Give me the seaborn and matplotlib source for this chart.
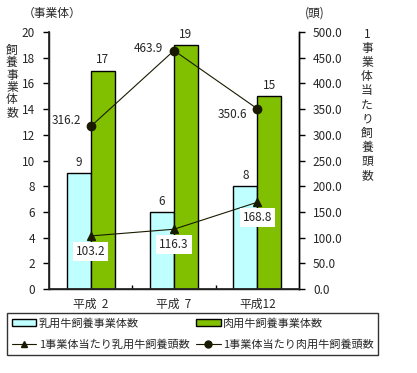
import matplotlib
matplotlib.use("Agg")
import matplotlib.pyplot as plt
import seaborn as sns
import pandas as pd
import numpy as np
from matplotlib.patches import Patch
from matplotlib.lines import Line2D

categories = ["平成  2", "平成  7", "平成12"]
dairy_farms = [9, 6, 8]
beef_farms = [17, 19, 15]
dairy_per_farm = [103.2, 116.3, 168.8]
beef_per_farm = [316.2, 463.9, 350.6]
left_ticks = list(range(0, 21, 2))
right_ticks = [0, 50, 100, 150, 200, 250, 300, 350, 400, 450, 500]

name_dairy_bar = "乳用牛飼養事業体数"
name_beef_bar = "肉用牛飼養事業体数"
name_dairy_line = "1事業体当たり乳用牛飼養頭数"
name_beef_line = "1事業体当たり肉用牛飼養頭数"

sns.set_theme(style="white")
plt.rcParams["font.family"] = ["Noto Sans CJK JP", "DejaVu Sans"]
FS = 8

c_light = "#C0FFFF"
c_green = "#80C000"
c_line = "#1a1a00"

df = pd.DataFrame({
    "cat": categories * 2,
    "val": dairy_farms + beef_farms,
    "series": [name_dairy_bar] * 3 + [name_beef_bar] * 3,
})

fig = plt.figure(figsize=(4.17, 3.73), dpi=100)
ax = fig.add_axes([49 / 417, 1 - 289 / 373, 250 / 417, 257 / 373])
sns.barplot(data=df, x="cat", y="val", hue="series", ax=ax,
            palette=[c_light, c_green], saturation=1, width=0.576, gap=0,
            edgecolor="black", linewidth=1.0, legend=False)
ax.set_xlim(-0.5, 2.5)
ax.set_ylim(0, 20)
ax.set_yticks(left_ticks)
ax.set_xlabel("")
ax.set_ylabel("")
ax.spines["top"].set_visible(False)
for s in ["left", "bottom", "right"]:
    ax.spines[s].set_visible(True)
    ax.spines[s].set_color("black")
    ax.spines[s].set_linewidth(1.0)
ax.tick_params(axis="y", direction="out", length=4, width=1, color="black",
               labelsize=FS + 0.5, pad=6, left=True)
ax.tick_params(axis="x", length=0, labelsize=FS + 0.5, pad=6)
ax.set_xticks([0.5, 1.5], minor=True)
ax.tick_params(axis="x", which="minor", direction="in", length=3, width=1, color="black", bottom=True)

# bar value labels
for i in range(3):
    ax.annotate(str(dairy_farms[i]), (i - 0.144, dairy_farms[i]), xytext=(0, 3),
                textcoords="offset points", ha="center", va="bottom", fontsize=FS + 0.5)
    ax.annotate(str(beef_farms[i]), (i + 0.144, beef_farms[i]), xytext=(0, 3),
                textcoords="offset points", ha="center", va="bottom", fontsize=FS + 0.5)

ax2 = ax.twinx()
ax2.set_ylim(0, 500)
ax2.set_yticks(right_ticks)
ax2.set_yticklabels([f"{v:.1f}" for v in right_ticks])
ax2.tick_params(axis="y", direction="out", length=4, width=1, color="black",
                labelsize=FS + 0.5, pad=6, right=True)
ax2.spines["top"].set_visible(False)
ax2.spines["right"].set_color("black")
ax2.spines["right"].set_linewidth(1.0)
ax2.grid(False)
ax.grid(False)

xpos = np.arange(len(categories))
ax2.plot(xpos, dairy_per_farm, color=c_line, lw=0.8, marker="^", ms=6, zorder=5)
ax2.plot(xpos, beef_per_farm, color=c_line, lw=0.8, marker="o", ms=6, zorder=5)

box = dict(boxstyle="square,pad=0.25", fc="white", ec="none")
for i, v in enumerate(dairy_per_farm):
    ax2.annotate(f"{v:.1f}", (i, v), xytext=(0, -11), textcoords="offset points",
                 ha="center", va="center", fontsize=FS + 0.5, bbox=box, zorder=6)
beef_offsets = [(-7, 4), (-8, 1.5), (-7, -4)]
for i, v in enumerate(beef_per_farm):
    dx, dy = beef_offsets[i]
    ax2.annotate(f"{v:.1f}", (i, v), xytext=(dx, dy), textcoords="offset points",
                 ha="right", va="center", fontsize=FS + 0.5, zorder=6)

# axis titles
fig.text(52 / 417, 1 - 13 / 373, "（事業体）", ha="center", va="center", fontsize=FS + 0.5)
fig.text(315 / 417, 1 - 13 / 373, "(頭)", ha="center", va="center", fontsize=FS + 0.5)
left_lab = "飼養事業体数"
for k, ch in enumerate(left_lab):
    fig.text(12 / 417, 1 - (50 + k * 12.5) / 373, ch, ha="center", va="center", fontsize=FS + 0.5)
right_lab = "1事業体当たり飼養頭数"
for k, ch in enumerate(right_lab):
    fig.text(367 / 417, 1 - (34 + k * 14.2) / 373, ch, ha="center", va="center", fontsize=FS + 0.5)

handles = [
    Patch(facecolor=c_light, edgecolor="black", linewidth=1.0, label=name_dairy_bar),
    Line2D([0], [0], color=c_line, lw=0.8, marker="^", ms=5, label=name_dairy_line),
    Patch(facecolor=c_green, edgecolor="black", linewidth=1.0, label=name_beef_bar),
    Line2D([0], [0], color=c_line, lw=0.8, marker="o", ms=5, label=name_beef_line),
]
leg = fig.legend(handles=handles, ncol=2, loc="upper left",
                 bbox_to_anchor=(7 / 417, 1 - 313 / 373), fontsize=FS,
                 frameon=True, fancybox=False, edgecolor="black",
                 handlelength=2.2, handleheight=0.6, handletextpad=0.2,
                 columnspacing=0.6, borderpad=0.45, labelspacing=0.95,
                 borderaxespad=0)
leg.get_frame().set_linewidth(1.0)

fig.savefig("out.png", dpi=100)
